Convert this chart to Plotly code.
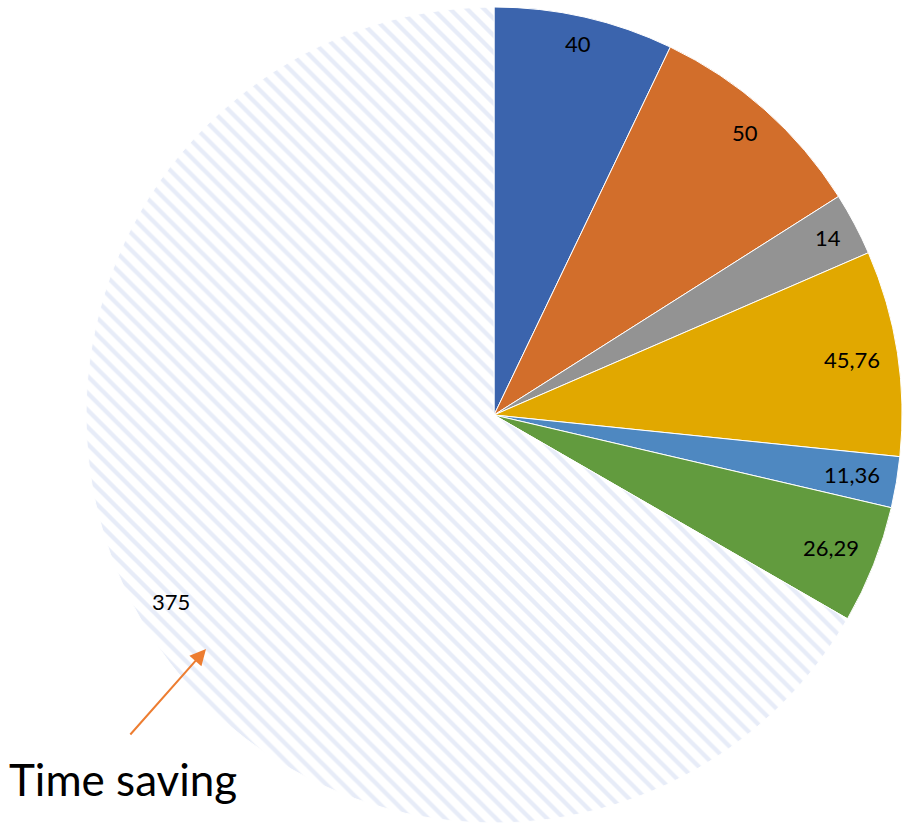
import math
import plotly.graph_objects as go

# Slice values, clockwise from 12 o'clock
values = [40, 50, 14, 45.76, 11.36, 26.29, 375]
names = ["A", "B", "C", "D", "E", "F", "Time saving"]
colors = ["#3B64AD", "#D26E2B", "#939393", "#E1A800", "#4E88C1", "#629B3E", "#FFFFFF"]

W, H = 905, 826
# pie placement in pixels (domain box)
x0, x1 = 86, 902
y_top, y_bot = 7, 823
cx, cy = (x0 + x1) / 2, (y_top + y_bot) / 2
R = (x1 - x0) / 2

LABEL_FONT = "Lato, Open Sans, sans-serif"


def fmt(v):
    s = f"{v:.2f}".rstrip("0").rstrip(".")
    return s.replace(".", ",")


fig = go.Figure()
fig.add_trace(go.Pie(
    values=values,
    labels=names,
    sort=False,
    direction="clockwise",
    rotation=0,
    textinfo="none",
    hoverinfo="label+value",
    marker=dict(
        colors=colors,
        line=dict(color="white", width=1),
        pattern=dict(
            shape=["", "", "", "", "", "", "\\"],
            fgcolor="#CFDAF1",
            bgcolor="white",
            size=12,
            solidity=0.36,
            fillmode="overlay",
        ),
    ),
    domain=dict(x=[x0 / W, x1 / W], y=[(H - y_bot) / H, (H - y_top) / H]),
    showlegend=False,
))

# value labels near the outer edge of each slice
total = sum(values)
cum = 0.0
annotations = []
for v in values:
    mid = (cum + v / 2) / total * 2 * math.pi
    cum += v
    txt = fmt(v)
    hw = 6.0 * len(txt)
    hh = 11
    ext = hw * abs(math.sin(mid)) + hh * abs(math.cos(mid))
    r = R - 14 - ext
    px = cx + r * math.sin(mid)
    py = cy - r * math.cos(mid)
    annotations.append(dict(
        x=px / W, y=1 - py / H, xref="paper", yref="paper",
        text=txt, showarrow=False,
        font=dict(family=LABEL_FONT, size=22, color="black"),
        xanchor="center", yanchor="middle",
    ))

# callout text and arrow
annotations.append(dict(
    x=123 / W, y=1 - 779 / H, xref="paper", yref="paper",
    text="Time saving", showarrow=False,
    font=dict(family=LABEL_FONT, size=44, color="black"),
    xanchor="center", yanchor="middle",
))
annotations.append(dict(
    x=206 / W, y=1 - 649 / H, xref="paper", yref="paper",
    ax=-77, ay=87, axref="pixel", ayref="pixel",
    text="", showarrow=True,
    arrowhead=2, arrowsize=1.6, arrowwidth=2, arrowcolor="#ED7D31",
))

fig.update_layout(
    width=W, height=H,
    margin=dict(l=0, r=0, t=0, b=0),
    paper_bgcolor="white",
    plot_bgcolor="white",
    annotations=annotations,
)

fig.write_html("out.html")
